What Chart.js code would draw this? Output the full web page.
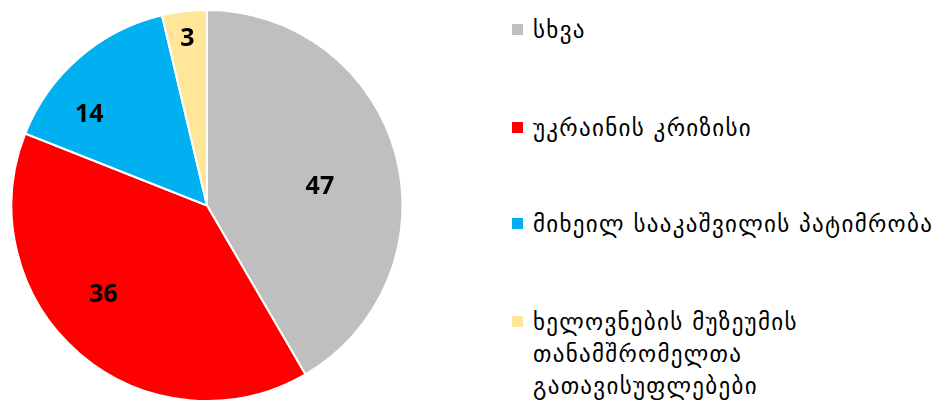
<!DOCTYPE html>
<html lang="ka">

<head>
    <meta charset="UTF-8">
    <title>pie</title>
    <style>
        body { margin: 0; background: #fff; }
        #wrap { position: relative; width: 940px; height: 402px; }
        #chartBox { position: absolute; left: 0; top: 0; width: 414px; height: 402px; }
        #legend { position: absolute; left: 512px; top: 0; font-family: "DejaVu Sans", sans-serif; font-size: 23px; letter-spacing: 1.3px; color: #000; }
        .item { position: absolute; left: 0; white-space: nowrap; }
        .box { position: absolute; left: 0; width: 11px; height: 11px; }
        .txt { position: absolute; left: 21px; line-height: 32px; }
    </style>
</head>

<body>
    <div id="wrap">
        <div id="chartBox"><canvas id="myChart"></canvas></div>
        <div id="legend"></div>
    </div>

    <script src="https://cdn.jsdelivr.net/npm/chart.js"></script>
    <script>
        const v_labels = [
            "სხვა",
            "უკრაინის კრიზისი",
            "მიხეილ სააკაშვილის პატიმრობა",
            ["ხელოვნების მუზეუმის", "თანამშრომელთა", "გათავისუფლებები"]
        ];
        // printed data labels
        const v_values = [47, 36, 14, 3];
        // slice sizes as they are drawn in the picture
        const v_slices = [41.6, 39.4, 15.3, 3.7];
        const v_colors = ["#BFBFBF", "#FF0000", "#00B0F0", "#FFE699"];
        // where the number sits: fraction of radius, turn from mid angle (deg)
        const v_labelPos = [0.585, 0.70, 0.76, 0.86];
        const v_labelTurn = [6, 8.5, -11.5, 0];

        // value labels drawn inside the slices
        const p_valueLabels = {
            id: "valueLabels",
            afterDatasetsDraw(chart) {
                const c = chart.ctx;
                const meta = chart.getDatasetMeta(0);
                c.save();
                c.font = "bold 25px 'Noto Sans', sans-serif";
                c.fillStyle = "#000";
                c.textAlign = "center";
                c.textBaseline = "middle";
                meta.data.forEach((arc, i) => {
                    const a = (arc.startAngle + arc.endAngle) / 2 + v_labelTurn[i] * Math.PI / 180;
                    const r = arc.outerRadius * v_labelPos[i];
                    c.fillText(String(v_values[i]), arc.x + Math.cos(a) * r, arc.y + Math.sin(a) * r);
                });
                c.restore();
            }
        };

        const ctx = document.querySelector("#myChart");
        new Chart(ctx, {
            type: "pie",
            data: {
                labels: v_labels,
                datasets: [{
                    data: v_slices,
                    backgroundColor: v_colors,
                    borderColor: "#ffffff",
                    borderWidth: 2
                }]
            },
            options: {
                responsive: true,
                maintainAspectRatio: false,
                animation: false,
                layout: { padding: { left: 10, right: 10, top: 9, bottom: 0 } },
                plugins: {
                    legend: { display: false },
                    tooltip: { enabled: false }
                }
            },
            plugins: [p_valueLabels]
        });

        // legend on the right
        const v_legendTop = [30, 128, 224, 322];
        const legend = document.querySelector("#legend");
        for (let i = 0; i < v_labels.length; i++) {
            const lines = Array.isArray(v_labels[i]) ? v_labels[i] : [v_labels[i]];
            const item = document.createElement("div");
            item.className = "item";
            item.style.top = (v_legendTop[i] - 16) + "px";
            const box = document.createElement("div");
            box.className = "box";
            box.style.top = "10px";
            box.style.background = v_colors[i];
            const txt = document.createElement("div");
            txt.className = "txt";
            txt.innerHTML = lines.join("<br>");
            item.appendChild(box);
            item.appendChild(txt);
            legend.appendChild(item);
        }
    </script>
</body>

</html>
